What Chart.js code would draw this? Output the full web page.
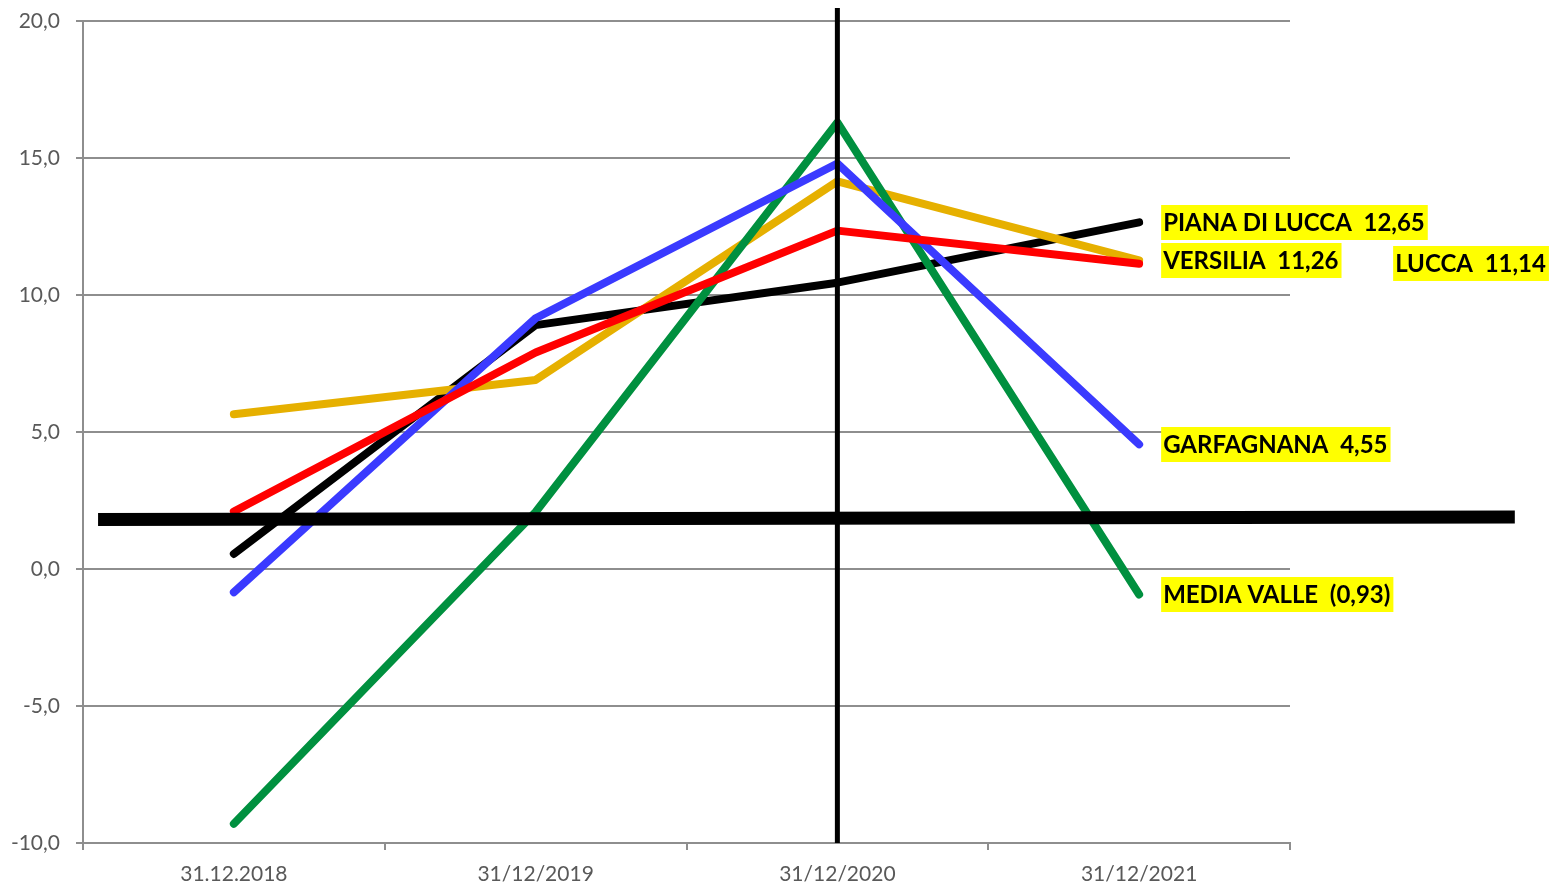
<!DOCTYPE html>
<html><head><meta charset="utf-8">
<script src="https://cdn.jsdelivr.net/npm/chart.js@4/dist/chart.umd.min.js"></script>
<style>html,body{margin:0;padding:0;background:#fff}#wrap{width:1558px;height:887px}</style>
</head><body><div id="wrap"><canvas id="c" width="1558" height="887"></canvas></div>
<script>
// ---- data ----
const categories = ['31.12.2018', '31/12/2019', '31/12/2020', '31/12/2021'];
const seriesNames = ['PIANA DI LUCCA', 'VERSILIA', 'LUCCA', 'GARFAGNANA', 'MEDIA VALLE'];
const pianaDiLucca = [0.55, 8.9, 10.45, 12.65];
const versilia = [5.65, 6.9, 14.15, 11.26];
const lucca = [2.1, 7.9, 12.35, 11.14];
const garfagnana = [-0.85, 9.15, 14.8, 4.55];
const mediaValle = [-9.3, 2.08, 16.3, -0.93];
const yTickValues = [-10, -5, 0, 5, 10, 15, 20];
// reference lines (category index / value)
const refHorizX = [-0.45, 4.245];
const refHorizY = [1.81, 1.90];
const refVertX = [2, 2];
const refVertY = [20.47, -10];

// ---- styles ----
const seriesColors = ['#000000', '#E6B000', '#FF0000', '#3A3AFF', '#00903F'];
const seriesOrder = [4, 3, 0, 1, 2];
const labelDx = [22, 22, 254, 22, 22];
const gridColor = '#8E8E8E';
const tickColor = '#595959';

function fmt(v) {
  const s = Math.abs(v).toFixed(2).replace('.', ',');
  return v < 0 ? '(' + s + ')' : s;
}

const allSeries = [pianaDiLucca, versilia, lucca, garfagnana, mediaValle];
const datasets = allSeries.map((d, i) => ({
  label: seriesNames[i],
  data: d,
  borderColor: seriesColors[i],
  backgroundColor: seriesColors[i],
  borderWidth: 8,
  borderCapStyle: 'round',
  borderJoinStyle: 'round',
  pointRadius: 0,
  tension: 0,
  fill: false,
  order: seriesOrder[i]
}));

const overlay = {
  id: 'overlay',
  afterDatasetsDraw(chart) {
    const ctx = chart.ctx, xs = chart.scales.x, ys = chart.scales.y;
    ctx.save();
    ctx.strokeStyle = '#000';
    ctx.lineCap = 'butt';
    // vertical line
    ctx.lineWidth = 5;
    ctx.beginPath();
    ctx.moveTo(xs.getPixelForValue(refVertX[0]), ys.getPixelForValue(refVertY[0]));
    ctx.lineTo(xs.getPixelForValue(refVertX[1]), ys.getPixelForValue(refVertY[1]));
    ctx.stroke();
    // horizontal line
    ctx.lineWidth = 13;
    ctx.beginPath();
    ctx.moveTo(xs.getPixelForValue(refHorizX[0]), ys.getPixelForValue(refHorizY[0]));
    ctx.lineTo(xs.getPixelForValue(refHorizX[1]), ys.getPixelForValue(refHorizY[1]));
    ctx.stroke();
    // end labels
    ctx.font = 'bold 24px Lato';
    ctx.textBaseline = 'middle';
    ctx.textAlign = 'left';
    chart.data.datasets.forEach((ds, i) => {
      const last = ds.data.length - 1;
      const v = ds.data[last];
      const txt = ds.label + '  ' + fmt(v);
      const x = xs.getPixelForValue(last) + labelDx[i];
      const y = ys.getPixelForValue(v);
      const w = ctx.measureText(txt).width;
      ctx.fillStyle = '#FFFF00';
      ctx.fillRect(x, Math.round(y - 17.5), w + 5, 35);
      ctx.fillStyle = '#000';
      ctx.fillText(txt, x + 2, y + 1);
    });
    ctx.restore();
  }
};

new Chart(document.getElementById('c'), {
  type: 'line',
  data: { labels: categories, datasets },
  options: {
    responsive: false,
    devicePixelRatio: 1,
    animation: false,
    layout: { padding: { left: 0, top: 21, right: 268, bottom: 0 } },
    plugins: { legend: { display: false }, tooltip: { enabled: false } },
    scales: {
      x: {
        type: 'category',
        offset: true,
        afterFit: s => { s.height = 44; s.paddingLeft = 0; s.paddingRight = 0; },
        grid: { offset: true, drawOnChartArea: false, drawTicks: true, tickLength: 7, color: gridColor, lineWidth: 2 },
        border: { display: true, color: gridColor, width: 2 },
        ticks: { color: tickColor, font: { family: 'Lato', size: 21 }, padding: 12, maxRotation: 0 }
      },
      y: {
        min: yTickValues[0],
        max: yTickValues[yTickValues.length - 1],
        afterFit: s => { s.width = 83; s.paddingTop = 0; s.paddingBottom = 0; },
        afterBuildTicks: s => { s.ticks = yTickValues.map(v => ({ value: v })); },
        grid: { color: gridColor, lineWidth: 2, drawTicks: true, tickLength: 7 },
        border: { display: true, color: gridColor, width: 2 },
        ticks: {
          color: tickColor, font: { family: 'Lato', size: 21 }, padding: 16,
          callback: v => v.toFixed(1).replace('.', ',')
        }
      }
    }
  },
  plugins: [overlay]
});
</script>
</body></html>
